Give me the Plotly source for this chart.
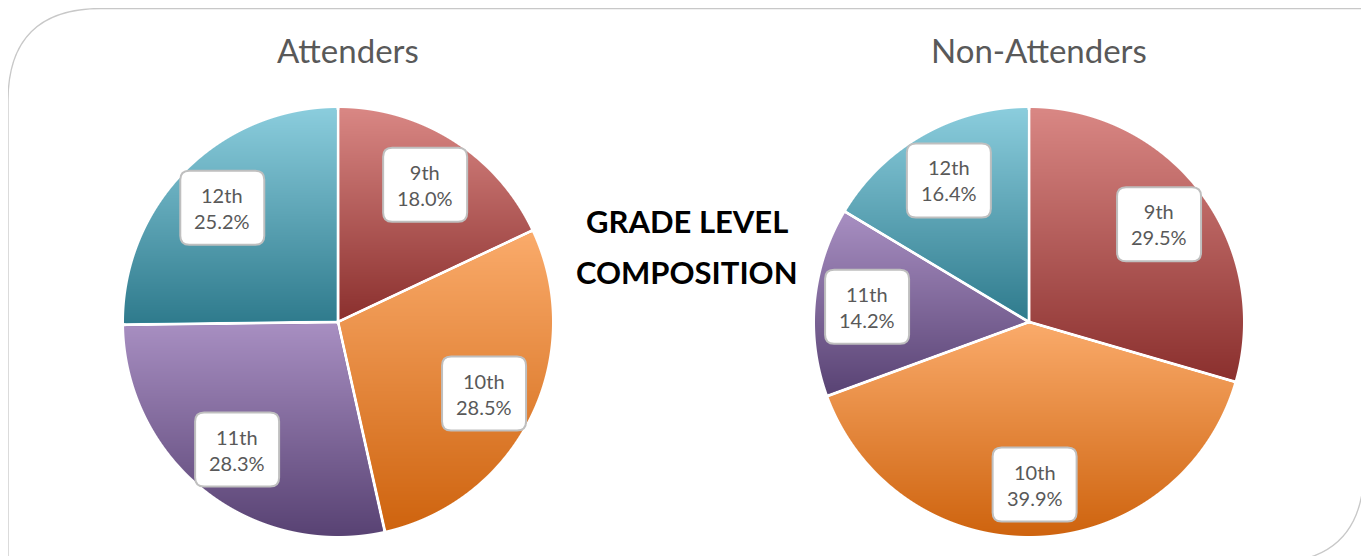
import math
import base64
import struct
import zlib
import numpy as np
import plotly.graph_objects as go

W, H = 1369, 556
OFF = 8  # page body margin

grades = ["9th", "10th", "11th", "12th"]
attenders = [18.0, 28.5, 28.3, 25.2]
non_attenders = [29.5, 39.9, 14.2, 16.4]
colors = ["#B4433F", "#EC8737", "#755A93", "#3C99B1"]
# gradient shading (top, bottom) per grade
grad_top = ["#D98784", "#FAAB6B", "#A88FC2", "#8BCDDD"]
grad_bottom = ["#8A2F2D", "#CE630E", "#584273", "#2E7A8C"]

titles = ["Attenders", "Non-Attenders"]
center_title = ["GRADE LEVEL", "COMPOSITION"]

FONT = "Lato"
GRAY = "#595959"

# pie geometry in screen pixels (center x, center y from top, radius)
pies = [(338, 322, 214), (1029, 322, 214)]


def px(x):
    return (x - OFF) / W


def py(y):
    return (H - (y - OFF)) / H


def hex_rgb(h):
    h = h.lstrip("#")
    return np.array([int(h[i:i + 2], 16) for i in (0, 2, 4)], dtype=float)


def png_uri(rgba):
    h, w, _ = rgba.shape
    raw = b"".join(b"\x00" + rgba[i].tobytes() for i in range(h))

    def chunk(tag, data):
        c = struct.pack(">I", len(data)) + tag + data
        return c + struct.pack(">I", zlib.crc32(tag + data) & 0xFFFFFFFF)

    png = (b"\x89PNG\r\n\x1a\n" + chunk(b"IHDR", struct.pack(">IIBBBBB", w, h, 8, 6, 0, 0, 0))
           + chunk(b"IDAT", zlib.compress(raw, 9)) + chunk(b"IEND", b""))
    return "data:image/png;base64," + base64.b64encode(png).decode()


def shading(vals, r, gap=1.6):
    """Per-slice vertical gradient overlay for a pie of radius r (pixels)."""
    n = 2 * r
    yy, xx = np.mgrid[0:n, 0:n].astype(float)
    dx = xx + 0.5 - r
    dy = yy + 0.5 - r
    dist = np.hypot(dx, dy)
    ang = np.mod(np.arctan2(dx, -dy), 2 * np.pi)
    total = sum(vals)
    bounds = np.cumsum([0] + list(vals)) / total * 2 * np.pi
    idx = np.clip(np.searchsorted(bounds, ang, side="right") - 1, 0, len(vals) - 1)
    img = np.zeros((n, n, 3))
    for i in range(len(vals)):
        a = np.linspace(bounds[i], bounds[i + 1], 200)
        ys = np.concatenate([[r], r - r * np.cos(a)])
        y0, y1 = ys.min(), ys.max()
        t = np.clip((yy + 0.5 - y0) / max(y1 - y0, 1), 0, 1)[..., None]
        col = hex_rgb(grad_top[i]) * (1 - t) + hex_rgb(grad_bottom[i]) * t
        m = idx == i
        img[m] = col[m]
    alpha = np.clip(r - dist + 0.5, 0, 1)
    for phi in bounds[:-1]:
        ux, uy = math.sin(phi), -math.cos(phi)
        p = dx * ux + dy * uy
        d = np.abs(dx * uy - dy * ux)
        a = np.where(p > -gap, np.clip(d - gap + 0.5, 0, 1), 1.0)
        alpha = alpha * a
    rgba = np.dstack([img, alpha[..., None] * 255]).round().clip(0, 255).astype(np.uint8)
    return png_uri(rgba)


fig = go.Figure()
shapes = []
annotations = []
images = []

for (cx, cy, r), vals, ttl in zip(pies, [attenders, non_attenders], titles):
    fig.add_trace(go.Pie(
        labels=grades, values=vals, sort=False, direction="clockwise", rotation=0,
        marker=dict(colors=colors, line=dict(color="white", width=3)),
        textinfo="none", hoverinfo="label+percent", showlegend=False,
        domain=dict(x=[px(cx - r), px(cx + r)], y=[py(cy + r), py(cy - r)]),
    ))
    images.append(dict(
        source=shading(vals, r), xref="paper", yref="paper",
        x=px(cx - r), y=py(cy - r), sizex=2 * r / W, sizey=2 * r / H,
        xanchor="left", yanchor="top", sizing="stretch", layer="above"))
    annotations.append(dict(
        x=px(cx + 10), y=py(50), xref="paper", yref="paper", text=ttl,
        showarrow=False, font=dict(family=FONT, size=33, color=GRAY),
        xanchor="center", yanchor="middle"))
    total = sum(vals)
    cum = 0.0
    for g, v in zip(grades, vals):
        theta = 2 * math.pi * (cum + v / 2) / total
        cum += v
        lx = cx + 0.76 * r * math.sin(theta)
        ly = cy - 0.76 * r * math.cos(theta)
        bw, bh, rr = 84, 74, 9
        x0, x1, y0, y1 = lx - bw / 2, lx + bw / 2, ly - bh / 2, ly + bh / 2
        path = (f"M {px(x0 + rr)},{py(y0)} L {px(x1 - rr)},{py(y0)} "
                f"Q {px(x1)},{py(y0)} {px(x1)},{py(y0 + rr)} "
                f"L {px(x1)},{py(y1 - rr)} Q {px(x1)},{py(y1)} {px(x1 - rr)},{py(y1)} "
                f"L {px(x0 + rr)},{py(y1)} Q {px(x0)},{py(y1)} {px(x0)},{py(y1 - rr)} "
                f"L {px(x0)},{py(y0 + rr)} Q {px(x0)},{py(y0)} {px(x0 + rr)},{py(y0)} Z")
        shapes.append(dict(type="path", path=path, xref="paper", yref="paper",
                           fillcolor="white", line=dict(color="#BFBFBF", width=2),
                           layer="above"))
        pct = 100 * v / total
        annotations.append(dict(
            x=px(lx), y=py(ly), xref="paper", yref="paper",
            text=f"{g}<br>{pct:.1f}%", showarrow=False,
            font=dict(family=FONT, size=20, color=GRAY),
            xanchor="center", yanchor="middle"))

for i, line in enumerate(center_title):
    annotations.append(dict(
        x=px(687), y=py(221 + 51 * i), xref="paper", yref="paper", text=f"<b>{line}</b>",
        showarrow=False, font=dict(family=FONT, size=31, color="black"),
        xanchor="center", yanchor="middle"))

# outer frame with rounded corners
fr = (f"M {px(8)},{py(575)} L {px(8)},{py(8 + 93)} Q {px(8)},{py(8.5)} {px(8 + 93)},{py(8.5)} "
      f"L {px(1364)},{py(8.5)} L {px(1364)},{py(468)} Q {px(1364)},{py(563)} {px(1269)},{py(563)}")
shapes.append(dict(type="path", path=fr, xref="paper", yref="paper",
                   line=dict(color="#C8C8C8", width=1.3), layer="below"))

fig.update_layout(
    width=W, height=H, margin=dict(l=0, r=0, t=0, b=0),
    paper_bgcolor="white", plot_bgcolor="white",
    shapes=shapes, annotations=annotations, images=images,
)

fig.write_html("out.html")
